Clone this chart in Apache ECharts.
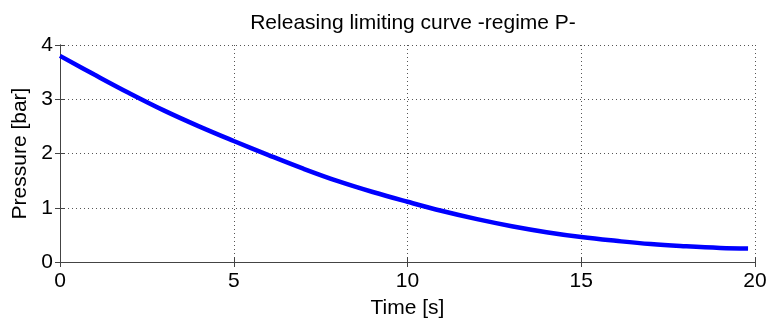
<!DOCTYPE html>
<html>
<head>
<meta charset="utf-8">
<script src="https://cdn.jsdelivr.net/npm/echarts@6/dist/echarts.min.js"></script>
<style>html,body{margin:0;padding:0;background:#fff}#c{width:768px;height:321px}</style>
</head>
<body>
<div id="c"></div>
<script>
const titleText = 'Releasing limiting curve -regime P-';
const xName = 'Time [s]';
const yName = 'Pressure [bar]';
const times = [0,1,2,3,4,5,6,7,8,9,10,11,12,13,14,15,16,17,18,19,19.8];
const pressures = [3.80,3.45,3.11,2.79,2.50,2.23,1.97,1.72,1.49,1.29,1.11,0.94,0.79,0.66,0.55,0.46,0.39,0.33,0.29,0.26,0.25];

const font = 'Liberation Sans, Arial, sans-serif';
const axisCol = '#444';
const chart = echarts.init(document.getElementById('c'), null, {renderer:'canvas'});
const data = times.map((t,i)=>[t,pressures[i]]);
const baseAxis = {
  axisLine:{show:true,lineStyle:{color:axisCol,width:1}},
  axisTick:{show:true,inside:true,length:5,lineStyle:{color:axisCol}},
  splitLine:{show:false},
  axisLabel:{show:false}
};
chart.setOption({
  animation:false,
  title:{text:titleText,left:408,textAlign:'center',top:8,textStyle:{fontFamily:font,fontSize:21,fontWeight:'normal',color:'#000'}},
  grid:{left:60,right:13,top:45,bottom:59,containLabel:false,outerBoundsMode:'none'},
  xAxis:[
    {type:'value',min:0,max:20,interval:5,position:'bottom',
     name:xName,nameLocation:'middle',nameGap:36,
     nameTextStyle:{fontFamily:font,fontSize:21,color:'#000'},
     axisLine:{show:true,onZero:false,lineStyle:{color:axisCol,width:1}},
     axisTick:{show:true,inside:true,length:5,lineStyle:{color:axisCol}},
     axisLabel:{show:true,margin:9,fontFamily:font,fontSize:21,color:'#000'},
     splitLine:{show:true,lineStyle:{color:'#555',type:[1,3],width:1}}},
    Object.assign({type:'value',min:0,max:20,interval:5,position:'top'},baseAxis)
  ],
  yAxis:[
    {type:'value',min:0,max:4,interval:1,position:'left',
     name:yName,nameLocation:'middle',nameGap:28,nameRotate:90,
     nameTextStyle:{fontFamily:font,fontSize:21,color:'#000'},
     axisLine:{show:true,onZero:false,lineStyle:{color:axisCol,width:1}},
     axisTick:{show:true,inside:true,length:5,lineStyle:{color:axisCol}},
     axisLabel:{show:true,margin:7,fontFamily:font,fontSize:21,color:'#000'},
     splitLine:{show:true,lineStyle:{color:'#555',type:[1,3],width:1}}},
    Object.assign({type:'value',min:0,max:4,interval:1,position:'right'},baseAxis)
  ],
  series:[{type:'line',data:data,showSymbol:false,smooth:0.4,
    lineStyle:{color:'#0000ff',width:4.5},itemStyle:{color:'#0000ff'}}]
});
</script>
</body>
</html>
